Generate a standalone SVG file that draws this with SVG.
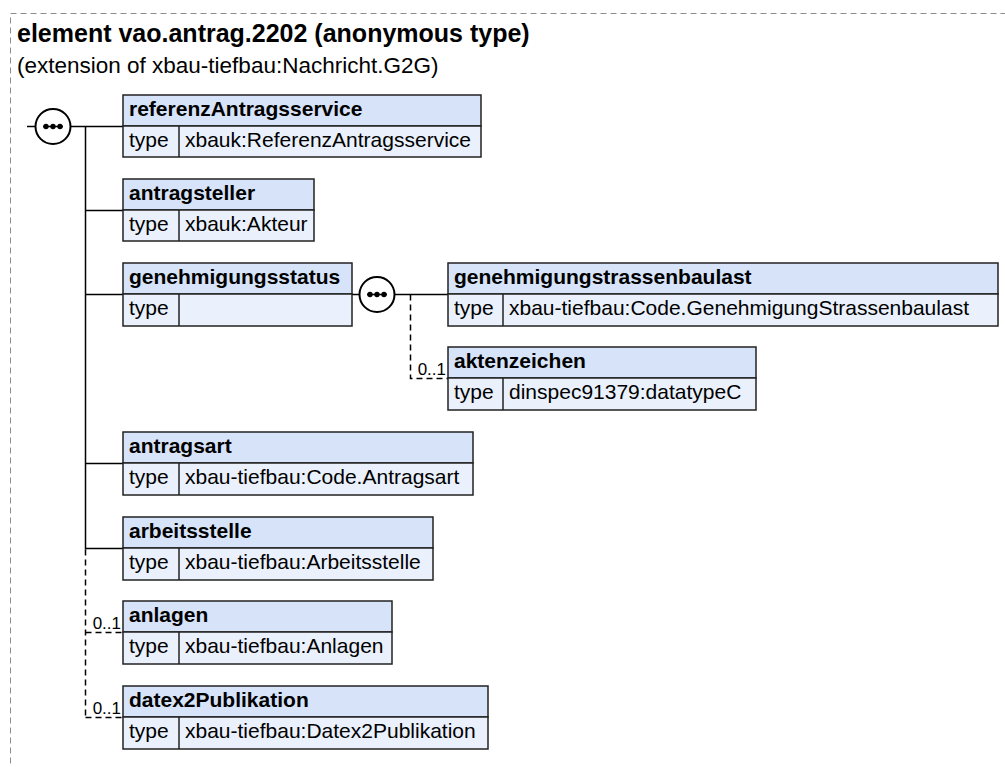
<svg xmlns="http://www.w3.org/2000/svg" width="1005" height="767" viewBox="0 0 1005 767">
  <defs>
    <style>
      .frame { fill: none; stroke: #8c8c8c; stroke-width: 1; stroke-dasharray: 6 4; }
      .title { font-family: "Liberation Sans", Arial, sans-serif; font-size: 25px; font-weight: bold; fill: #000; }
      .subtitle { font-family: "Liberation Sans", Arial, sans-serif; font-size: 22.5px; fill: #000; }
      .hdr { fill: #d6e3f8; stroke: #222; stroke-width: 1.5; }
      .row { fill: #eaf1fc; stroke: #222; stroke-width: 1.5; }
      .name { font-family: "Liberation Sans", Arial, sans-serif; font-size: 21px; font-weight: bold; fill: #000; }
      .txt { font-family: "Liberation Sans", Arial, sans-serif; font-size: 21px; fill: #000; }
      .occ { font-family: "Liberation Sans", Arial, sans-serif; font-size: 17px; fill: #000; text-anchor: end; }
      .wire { fill: none; stroke: #000; stroke-width: 1.5; }
      .opt { fill: none; stroke: #000; stroke-width: 1.5; stroke-dasharray: 6 4; }
      .seq { fill: #fff; stroke: #000; stroke-width: 2; }
    </style>
    <!-- sequence compositor: circle with three dots on a bar -->
    <g id="sequence">
      <circle class="seq" cx="0" cy="0" r="17.5"/>
      <line x1="-10" y1="0" x2="10" y2="0" stroke="#000" stroke-width="1.5"/>
      <circle cx="-7" cy="0" r="2.7" fill="#000"/>
      <circle cx="0" cy="0" r="2.7" fill="#000"/>
      <circle cx="7" cy="0" r="2.7" fill="#000"/>
    </g>
  </defs>

  <rect width="1005" height="767" fill="#fff"/>

  <!-- outer dashed frame (continues past the canvas) -->
  <rect class="frame" x="10.5" y="13.5" width="1010" height="780"/>

  <text class="title" x="17" y="42">element vao.antrag.2202 (anonymous type)</text>
  <text class="subtitle" x="17" y="73">(extension of xbau-tiefbau:Nachricht.G2G)</text>

  <!-- connectors -->
  <g id="connectors">
    <line class="wire" x1="27" y1="126.5" x2="36" y2="126.5"/>
    <line class="wire" x1="70" y1="126.5" x2="123" y2="126.5"/>
    <line class="wire" x1="85.5" y1="126.5" x2="85.5" y2="549.5"/>
    <line class="wire" x1="85.5" y1="210.5" x2="123" y2="210.5"/>
    <line class="wire" x1="85.5" y1="294.5" x2="123" y2="294.5"/>
    <line class="wire" x1="85.5" y1="463.5" x2="123" y2="463.5"/>
    <line class="wire" x1="85.5" y1="548.5" x2="123" y2="548.5"/>
    <path class="opt" d="M85.5 549.5 V717.5"/>
    <path class="opt" d="M85.5 632.5 H123"/>
    <path class="opt" d="M85.5 717.5 H123"/>
    <line class="wire" x1="352" y1="294.5" x2="360" y2="294.5"/>
    <line class="wire" x1="394" y1="294.5" x2="448" y2="294.5"/>
    <path class="opt" d="M410.5 294.5 V378.5 H448"/>
    <use href="#sequence" x="53" y="126.5"/>
    <use href="#sequence" x="377" y="294.5"/>
    <text class="occ" x="446" y="375">0..1</text>
    <text class="occ" x="121" y="629">0..1</text>
    <text class="occ" x="121" y="714">0..1</text>
  </g>

  <g id="referenzAntragsservice">
    <rect class="hdr" x="123" y="95" width="358" height="31"/>
    <rect class="row" x="123" y="126" width="358" height="31"/>
    <line x1="179" y1="126" x2="179" y2="157" stroke="#222" stroke-width="1.5"/>
    <text class="name" x="129" y="116">referenzAntragsservice</text>
    <text class="txt" x="129" y="147">type</text>
    <text class="txt" x="185" y="147">xbauk:ReferenzAntragsservice</text>
  </g>

  <g id="antragsteller">
    <rect class="hdr" x="123" y="179" width="191" height="31"/>
    <rect class="row" x="123" y="210" width="191" height="31"/>
    <line x1="179" y1="210" x2="179" y2="241" stroke="#222" stroke-width="1.5"/>
    <text class="name" x="129" y="200">antragsteller</text>
    <text class="txt" x="129" y="231">type</text>
    <text class="txt" x="185" y="231">xbauk:Akteur</text>
  </g>

  <g id="genehmigungsstatus">
    <rect class="hdr" x="123" y="263" width="229" height="31"/>
    <rect class="row" x="123" y="294" width="229" height="32"/>
    <line x1="179" y1="294" x2="179" y2="326" stroke="#222" stroke-width="1.5"/>
    <text class="name" x="129" y="284">genehmigungsstatus</text>
    <text class="txt" x="129" y="315">type</text>
  </g>

  <g id="genehmigungstrassenbaulast">
    <rect class="hdr" x="448" y="263" width="550" height="31"/>
    <rect class="row" x="448" y="294" width="550" height="32"/>
    <line x1="503" y1="294" x2="503" y2="326" stroke="#222" stroke-width="1.5"/>
    <text class="name" x="454" y="284">genehmigungstrassenbaulast</text>
    <text class="txt" x="454" y="315">type</text>
    <text class="txt" x="509" y="315">xbau-tiefbau:Code.GenehmigungStrassenbaulast</text>
  </g>

  <g id="aktenzeichen">
    <rect class="hdr" x="448" y="347" width="308" height="31"/>
    <rect class="row" x="448" y="378" width="308" height="32"/>
    <line x1="503" y1="378" x2="503" y2="410" stroke="#222" stroke-width="1.5"/>
    <text class="name" x="454" y="368">aktenzeichen</text>
    <text class="txt" x="454" y="399">type</text>
    <text class="txt" x="509" y="399">dinspec91379:datatypeC</text>
  </g>

  <g id="antragsart">
    <rect class="hdr" x="123" y="432" width="350" height="31"/>
    <rect class="row" x="123" y="463" width="350" height="32"/>
    <line x1="179" y1="463" x2="179" y2="495" stroke="#222" stroke-width="1.5"/>
    <text class="name" x="129" y="453">antragsart</text>
    <text class="txt" x="129" y="484">type</text>
    <text class="txt" x="185" y="484">xbau-tiefbau:Code.Antragsart</text>
  </g>

  <g id="arbeitsstelle">
    <rect class="hdr" x="123" y="517" width="310" height="31"/>
    <rect class="row" x="123" y="548" width="310" height="32"/>
    <line x1="179" y1="548" x2="179" y2="580" stroke="#222" stroke-width="1.5"/>
    <text class="name" x="129" y="538">arbeitsstelle</text>
    <text class="txt" x="129" y="569">type</text>
    <text class="txt" x="185" y="569">xbau-tiefbau:Arbeitsstelle</text>
  </g>

  <g id="anlagen">
    <rect class="hdr" x="123" y="601" width="269" height="31"/>
    <rect class="row" x="123" y="632" width="269" height="32"/>
    <line x1="179" y1="632" x2="179" y2="664" stroke="#222" stroke-width="1.5"/>
    <text class="name" x="129" y="622">anlagen</text>
    <text class="txt" x="129" y="653">type</text>
    <text class="txt" x="185" y="653">xbau-tiefbau:Anlagen</text>
  </g>

  <g id="datex2Publikation">
    <rect class="hdr" x="123" y="686" width="365" height="31"/>
    <rect class="row" x="123" y="717" width="365" height="32"/>
    <line x1="179" y1="717" x2="179" y2="749" stroke="#222" stroke-width="1.5"/>
    <text class="name" x="129" y="707">datex2Publikation</text>
    <text class="txt" x="129" y="738">type</text>
    <text class="txt" x="185" y="738">xbau-tiefbau:Datex2Publikation</text>
  </g>
</svg>
